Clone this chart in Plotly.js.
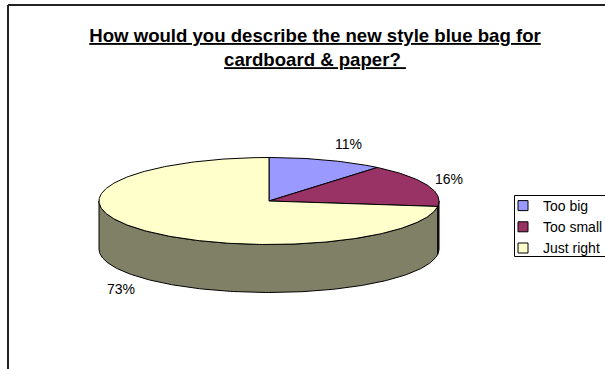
<!DOCTYPE html>
<html>
<head>
<meta charset="utf-8">
<script src="https://cdn.plot.ly/plotly-3.0.1.min.js"></script>
<style>html,body{margin:0;padding:0;background:#fff;overflow:hidden;}#chart{width:605px;height:369px;}</style>
</head>
<body>
<div id="chart"></div>
<script>
// ---- data ----
const categories = ['Too big', 'Too small', 'Just right'];
const values = [11, 16, 73];
const labels = ['11%', '16%', '73%'];
const colors = ['#9999FF', '#993366', '#FFFFCC'];
const sideColors = ['#4D4D80', '#4D1A33', '#808066'];
const titleText = '<b><u>How would you describe the new style blue bag for</u></b><br><b><u>cardboard &amp; paper? </u></b>';

// ---- geometry (styling) ----
const W = 605, H = 369;
const cx = 269, cy = 201, rx = 170, ry = 43.5, depth = 48;
const FONT = 'Liberation Sans, Arial, sans-serif';

function pt(deg, dy) {
  const t = deg * Math.PI / 180;
  return [cx + rx * Math.sin(t), cy - ry * Math.cos(t) + (dy || 0)];
}
function arc(a0, a1, dy) {
  const pts = [];
  const n = Math.max(2, Math.ceil(Math.abs(a1 - a0) / 1));
  for (let i = 0; i <= n; i++) pts.push(pt(a0 + (a1 - a0) * i / n, dy));
  return pts;
}

const total = values.reduce((a, b) => a + b, 0);
const starts = [], ends = [];
let acc = 0;
values.forEach(v => { starts.push(acc / total * 360); acc += v; ends.push(acc / total * 360); });

const traces = [];
// sides (front half 90..270 deg)
values.forEach((v, i) => {
  const s = Math.max(starts[i], 90), e = Math.min(ends[i], 270);
  if (e <= s) return;
  const top = arc(s, e, 0);
  const bot = arc(e, s, depth);
  const all = top.concat(bot);
  all.push(top[0]);
  traces.push({
    type: 'scatter', mode: 'lines', fill: 'toself',
    x: all.map(p => p[0]), y: all.map(p => p[1]),
    fillcolor: sideColors[i], line: {color: '#000', width: 1},
    showlegend: false, hoverinfo: 'skip'
  });
});
// top faces
values.forEach((v, i) => {
  const a = arc(starts[i], ends[i], 0);
  const all = [[cx, cy]].concat(a);
  all.push([cx, cy]);
  traces.push({
    type: 'scatter', mode: 'lines', fill: 'toself',
    x: all.map(p => p[0]), y: all.map(p => p[1]),
    fillcolor: colors[i], line: {color: '#000', width: 1},
    showlegend: false, hoverinfo: 'skip'
  });
});
// legend entries
categories.forEach((c, i) => {
  traces.push({
    type: 'scatter', mode: 'markers', x: [null], y: [null], name: c,
    marker: {symbol: 'square', size: 10, color: colors[i], line: {color: '#000', width: 1}},
    showlegend: true, hoverinfo: 'skip'
  });
});

// data labels
const annotations = values.map((v, i) => {
  const mid = (starts[i] + ends[i]) / 2;
  const t = mid * Math.PI / 180;
  const front = Math.cos(t) < 0;
  const e = pt(mid, front ? depth : 0);
  const right = Math.sin(t) >= 0;
  return {
    x: e[0] + (right ? 6 : -4), y: e[1] - 17 * Math.cos(t),
    xref: 'x', yref: 'y', text: labels[i], showarrow: false,
    xanchor: right ? 'left' : 'right', yanchor: 'middle',
    font: {family: FONT, size: 14, color: '#000'}
  };
});

const layout = {
  width: W, height: H,
  margin: {l: 0, r: 0, t: 0, b: 0, autoexpand: false},
  paper_bgcolor: '#fff', plot_bgcolor: '#fff',
  xaxis: {range: [0, W], visible: false, fixedrange: true},
  yaxis: {range: [H, 0], visible: false, fixedrange: true},
  title: {
    text: titleText, x: 315 / W, xanchor: 'center',
    y: 1 - 42 / H, yanchor: 'top',
    font: {family: FONT, size: 18.6, color: '#000'}
  },
  showlegend: true,
  legend: {
    x: 503 / W, y: 1 - 190 / H, xanchor: 'left', yanchor: 'top',
    borderwidth: 0, bgcolor: 'rgba(0,0,0,0)',
    font: {family: FONT, size: 14, color: '#000'},
    itemwidth: 30, tracegroupgap: 0
  },
  annotations: annotations,
  shapes: [
    {type: 'line', xref: 'paper', yref: 'paper', x0: 8 / W, x1: 1, y0: 1 - 5 / H, y1: 1 - 5 / H, line: {color: '#222', width: 2}},
    {type: 'line', xref: 'paper', yref: 'paper', x0: 8 / W, x1: 8 / W, y0: 0, y1: 1 - 5 / H, line: {color: '#222', width: 2}},
    {type: 'rect', xref: 'paper', yref: 'paper', x0: 514.5 / W, x1: 1.05, y0: 1 - 256.5 / H, y1: 1 - 195.5 / H, line: {color: '#000', width: 1}, fillcolor: 'rgba(0,0,0,0)'}
  ]
};

Plotly.newPlot('chart', traces, layout, {staticPlot: true, displayModeBar: false});
</script>
</body>
</html>
